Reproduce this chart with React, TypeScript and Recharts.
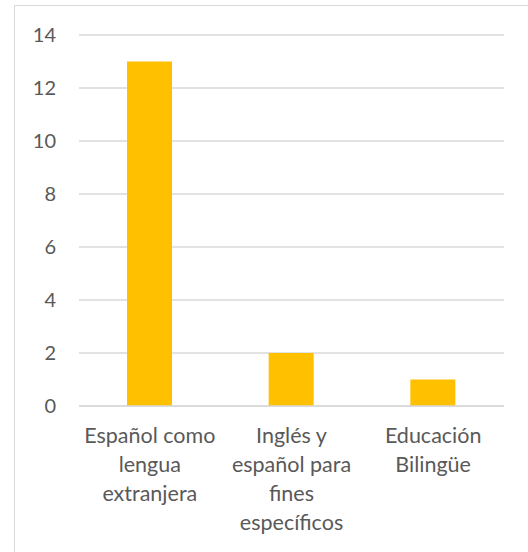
import React from "react";
import { BarChart, Bar, XAxis, YAxis, CartesianGrid } from "recharts";

const categories = ["Español como\nlengua\nextranjera", "Inglés y\nespañol para\nfines\nespecíficos", "Educación\nBilingüe"];
const values = [13, 2, 1];
const yTicks = [0, 2, 4, 6, 8, 10, 12, 14];

const data = categories.map((c, i) => ({ name: c, value: values[i] }));

const FONT = "Lato, 'Liberation Sans', sans-serif";
const TEXT = "#595959";

const XTick = (props: any) => {
  const { x, y, payload } = props;
  const lines = String(payload.value).split("\n");
  return (
    <text x={x} y={y} textAnchor="middle" fill={TEXT} fontFamily={FONT} fontSize={21.5}>
      {lines.map((l, i) => (
        <tspan key={i} x={x} dy={i === 0 ? 15 : 29}>
          {l}
        </tspan>
      ))}
    </text>
  );
};

export default function App() {
  return (
    <div style={{ position: "absolute", left: 0, top: 0, width: 528, height: 552, overflow: "hidden", background: "#fff" }}>
      <div style={{ position: "absolute", left: 14, top: 5, width: 600, height: 600, border: "1.5px solid #d9d9d9" }} />
      <div style={{ position: "absolute", left: 0, top: 0 }}>
        <BarChart width={528} height={552} data={data} margin={{ top: 35, right: 24, left: 0, bottom: 0 }}>
          <CartesianGrid vertical={false} stroke="#d9d9d9" strokeWidth={1.3} />
          <XAxis
            dataKey="name"
            axisLine={{ stroke: "#d9d9d9", strokeWidth: 1.3 }}
            tickLine={false}
            tickSize={0}
            tickMargin={22}
            tick={<XTick />}
            interval={0}
            height={146}
          />
          <YAxis
            domain={[0, 14]}
            ticks={yTicks}
            axisLine={false}
            tickLine={false}
            tickSize={0}
            tickMargin={23}
            width={79}
            tick={{ fill: TEXT, fontFamily: FONT, fontSize: 20 }}
          />
          <Bar dataKey="value" fill="#FFC000" barSize={45} isAnimationActive={false} />
        </BarChart>
      </div>
    </div>
  );
}
